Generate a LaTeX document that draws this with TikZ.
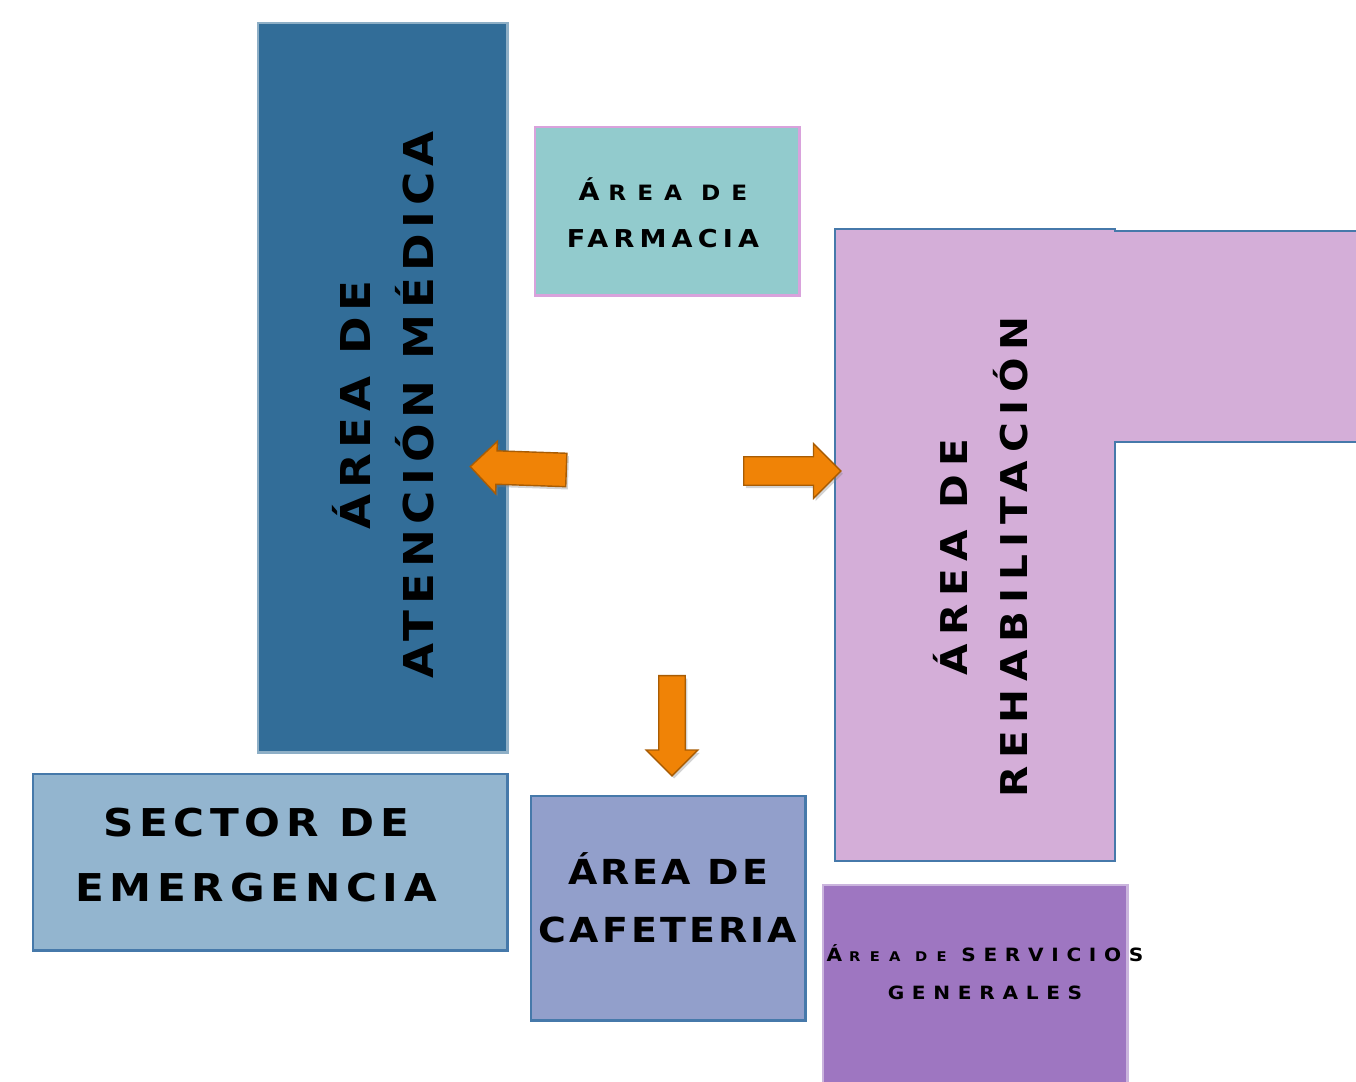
\documentclass[tikz,border=0pt]{standalone}
\usepackage{fontspec}
\usetikzlibrary{shapes.arrows,shadows}
\newfontfamily\plano[FakeStretch=1.1]{DejaVu Sans}
\definecolor{atencion}{HTML}{326D98}
\definecolor{farmacia}{HTML}{92CBCD}
\definecolor{rehab}{HTML}{D4AED8}
\definecolor{emergencia}{HTML}{93B5CF}
\definecolor{cafeteria}{HTML}{929FCB}
\definecolor{servicios}{HTML}{9E76C1}
\definecolor{borde}{HTML}{4679AA}
\definecolor{rosa}{HTML}{D9A2DC}
\definecolor{naranja}{HTML}{F08306}
\begin{document}
\begin{tikzpicture}[
  x=0.01cm, y=-0.01cm,
  room/.style={draw=borde, line width=0.7pt, inner sep=0pt, anchor=north west},
  lbl/.style={align=center, text=black, inner sep=0pt},
  flecha/.style={single arrow, anchor=tail, fill=naranja, draw=naranja!70!black, line width=0.4pt, inner xsep=0pt,
    drop shadow={opacity=0.35, shadow xshift=0.6pt, shadow yshift=-0.8pt}}
]
  \useasboundingbox (0,0) rectangle (1356,1082);
  \clip (0,0) rectangle (1356,1082);
  % areas of the plan
  \node[room, draw=atencion!55!white, fill=atencion, minimum width=2.49cm, minimum height=7.29cm] (aten) at (257,22) {};
  \node[room, draw=rosa, fill=farmacia, minimum width=2.64cm, minimum height=1.68cm] (farm) at (534,126) {};
  \node[room, fill=emergencia, minimum width=4.74cm, minimum height=1.76cm] (emer) at (32,773) {};
  \node[room, fill=cafeteria, minimum width=2.74cm, minimum height=2.24cm] (cafe) at (530,795) {};
  \node[room, draw=servicios!55!white, fill=servicios, minimum width=3.04cm, minimum height=2.1cm] (serv) at (822,884) {};
  \draw[draw=borde, line width=0.7pt, fill=rehab] (835,229) -- (1115,229) -- (1115,231) -- (1360,231)
    -- (1360,442) -- (1115,442) -- (1115,861) -- (835,861) -- cycle;
  % labels
  \node[lbl, rotate=90, font=\plano\bfseries\addfontfeature{LetterSpace=14}\fontsize{11.7}{17.9}\selectfont] (aten-t) at (383,405) {ÁREA DE\\ATENCIÓN MÉDICA};
  \node[lbl, rotate=90, font=\plano\bfseries\addfontfeature{LetterSpace=21}\fontsize{10.5}{17}\selectfont] (rehab-t) at (981,557) {ÁREA DE\\REHABILITACIÓN};
  \node[lbl, font=\plano\bfseries\addfontfeature{LetterSpace=15}\fontsize{10.9}{18.5}\selectfont] (emer-t) at (256,855) {SECTOR DE\\EMERGENCIA};
  \node[lbl, font=\plano\bfseries\addfontfeature{LetterSpace=9}\fontsize{9.8}{16.5}\selectfont] (cafe-t) at (668,898) {ÁREA DE\\CAFETERIA};
  \node[lbl, font=\plano\bfseries\addfontfeature{LetterSpace=21}\fontsize{7}{13.4}\selectfont] (farm-t) at (663,213)
    {Á\kern2.5pt{\addfontfeature{LetterSpace=52}\fontsize{6}{13.4}\selectfont REA DE}\\FARMACIA};
  \node[lbl, font=\plano\bfseries\addfontfeature{LetterSpace=42}\fontsize{5.2}{10.8}\selectfont] (serv-t) at (985,972)
    {Á\kern2pt{\addfontfeature{LetterSpace=70}\fontsize{3.8}{10.8}\selectfont REA DE} SERVICIOS\\GENERALES};
  % arrows
  \node[flecha, rotate=178, inner ysep=0.16cm, minimum height=0.96cm, minimum width=0.51cm, single arrow head extend=0.095cm] (f-aten) at (567,470) {};
  \node[flecha, inner ysep=0.135cm, minimum height=0.97cm, minimum width=0.53cm, single arrow head extend=0.13cm] (f-rehab) at (743,471) {};
  \node[flecha, rotate=-90, inner ysep=0.125cm, minimum height=1.0cm, minimum width=0.5cm, single arrow head extend=0.125cm] (f-cafe) at (672,675) {};
\end{tikzpicture}
\end{document}
